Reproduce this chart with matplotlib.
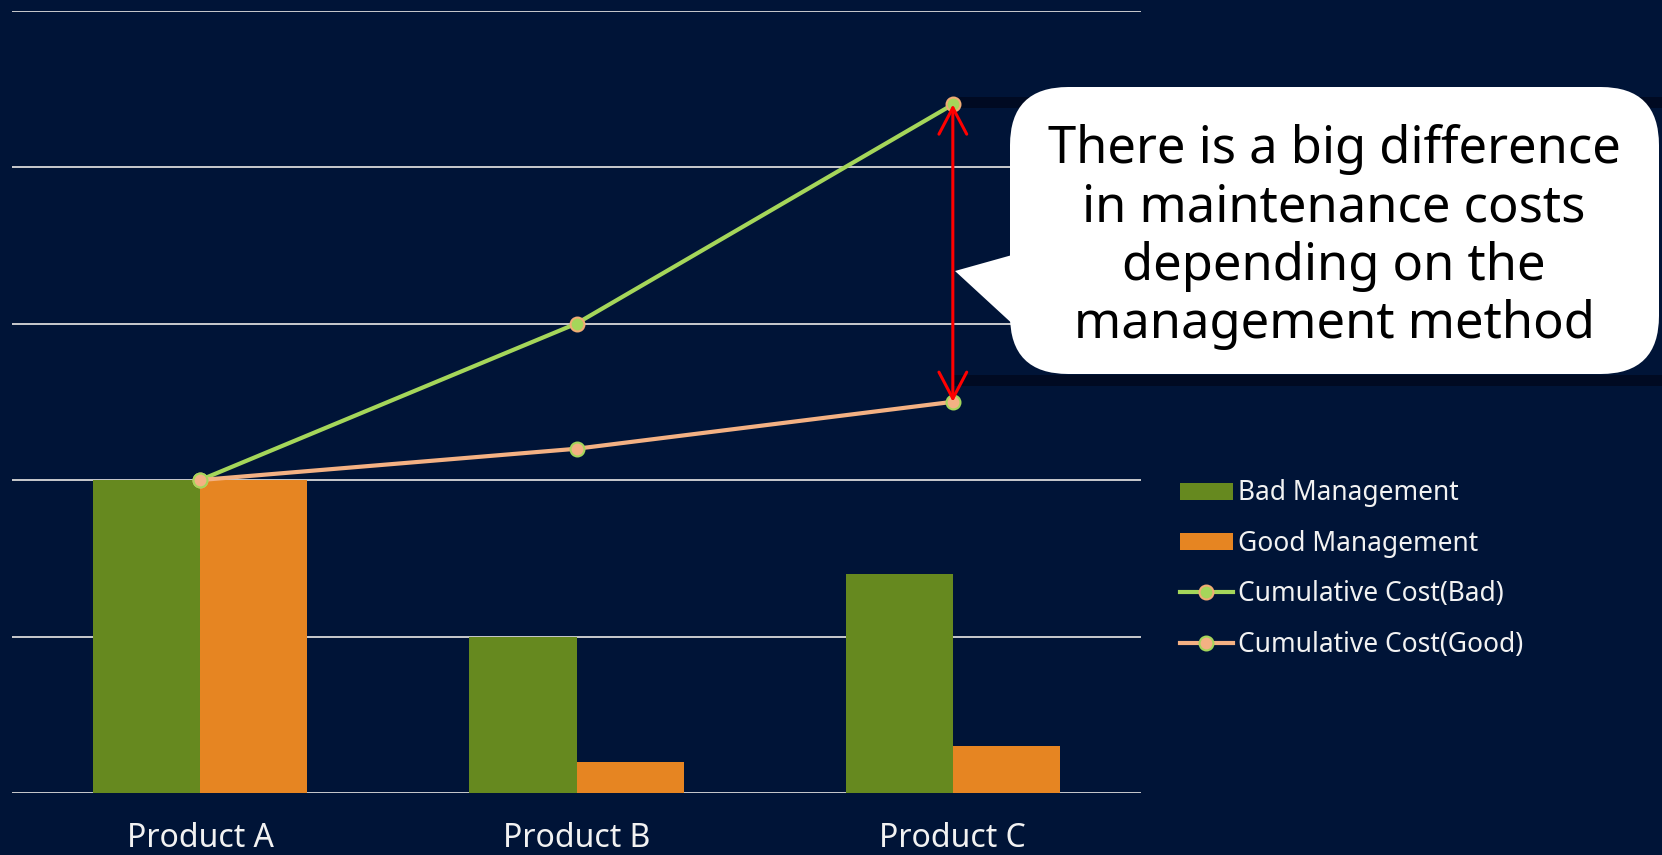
import matplotlib
matplotlib.use("Agg")

import numpy as np
import matplotlib.pyplot as plt
from matplotlib.patches import FancyBboxPatch, Polygon, Rectangle
from matplotlib.lines import Line2D

W, H = 1662, 855
BG = "#001437"

products = ["Product A", "Product B", "Product C"]
bad_cost = [20, 10, 14]
good_cost = [20, 2, 3]
cum_bad = [20, 30, 44]
cum_good = [20, 22, 25]

callout_text = "There is a big difference\nin maintenance costs\ndepending on the\nmanagement method"

plt.rcParams["font.family"] = ["Noto Sans", "DejaVu Sans"]

GREEN_BAR = "#66891F"
ORANGE_BAR = "#E68522"
GREEN_LINE = "#A5D65A"
PEACH_LINE = "#F4B183"

fig = plt.figure(figsize=(W / 100, H / 100), dpi=100)
fig.patch.set_facecolor(BG)


def fx(px):
    return px / W


def fy(py):
    # pixel rows counted from the top
    return 1 - py / H


ax = fig.add_axes([fx(12), fy(793), fx(1141) - fx(12), fy(10.6) - fy(793)])
ax.set_facecolor("none")

x = np.arange(len(products))
bw = 0.285
ax.bar(x - bw / 2, bad_cost, bw, color=GREEN_BAR, zorder=2)
ax.bar(x + bw / 2, good_cost, bw, color=ORANGE_BAR, zorder=2)

bad_style = dict(color=GREEN_LINE, lw=3, marker="o", ms=10,
                 mfc=GREEN_LINE, mec="#F0AC74", mew=1.5)
good_style = dict(color=PEACH_LINE, lw=3, marker="o", ms=10,
                  mfc=PEACH_LINE, mec=GREEN_LINE, mew=1.5)
ax.plot(x, cum_bad, zorder=4, **bad_style)
ax.plot(x, cum_good, zorder=4, **good_style)

ax.set_xlim(-0.5, 2.5)
ax.set_ylim(0, 50)
ax.set_yticks(np.arange(0, 51, 10))
ax.grid(axis="y", color="#D9D9D9", lw=1.3, zorder=1)
ax.set_axisbelow(True)
ax.tick_params(axis="y", left=False, labelleft=False)
ax.tick_params(axis="x", bottom=False, pad=17.5, colors="#F2F2F2")
ax.set_xticks(x)
ax.set_xticklabels(products, fontsize=23)
for s in ax.spines.values():
    s.set_visible(False)

# difference arrow between the two cumulative totals
ax.annotate("", xy=(x[2], cum_good[2]), xytext=(x[2], cum_bad[2]),
            arrowprops=dict(arrowstyle="<->,head_length=1.9,head_width=1.0",
                            color="#FF0000", lw=2.2, shrinkA=0, shrinkB=0),
            zorder=8, annotation_clip=False)

# faint shadow bands above and below the callout
for top, bot in [(97, 108), (375, 386)]:
    fig.patches.append(Rectangle((fx(952), fy(bot)), fx(W) - fx(952), fy(top) - fy(bot),
                                 transform=fig.transFigure, facecolor="#000A22",
                                 edgecolor="none", zorder=-1))

# callout bubble
box = FancyBboxPatch((fx(1010), fy(374)), fx(1659) - fx(1010), fy(87) - fy(374),
                     boxstyle="round,pad=0,rounding_size=0.035",
                     transform=fig.transFigure, facecolor="white",
                     edgecolor="none", zorder=5, mutation_aspect=W / H)
fig.patches.append(box)
tail = Polygon([(fx(1030), fy(250)), (fx(955), fy(271)), (fx(1030), fy(340))],
               closed=True, transform=fig.transFigure, facecolor="white",
               edgecolor="none", zorder=5)
fig.patches.append(tail)
fig.text(fx(1334), fy(237), callout_text, ha="center", va="center",
         multialignment="center", fontsize=36.5, color="black",
         linespacing=1.18, zorder=6)

handles = [
    Rectangle((0, 0), 1, 1, facecolor=GREEN_BAR, edgecolor="none"),
    Rectangle((0, 0), 1, 1, facecolor=ORANGE_BAR, edgecolor="none"),
    Line2D([], [], **bad_style),
    Line2D([], [], **good_style),
]
labels = ["Bad Management", "Good Management",
          "Cumulative Cost(Bad)", "Cumulative Cost(Good)"]
leg = fig.legend(handles, labels, loc="center left",
                 bbox_to_anchor=(fx(1180), fy(569)), frameon=False,
                 handlelength=2.0, handleheight=0.62, handletextpad=0.2,
                 labelspacing=0.85, borderpad=0, borderaxespad=0,
                 numpoints=1, prop={"size": 19})
for t in leg.get_texts():
    t.set_color("#F2F2F2")

fig.savefig("out.png", dpi=100, facecolor=BG)
